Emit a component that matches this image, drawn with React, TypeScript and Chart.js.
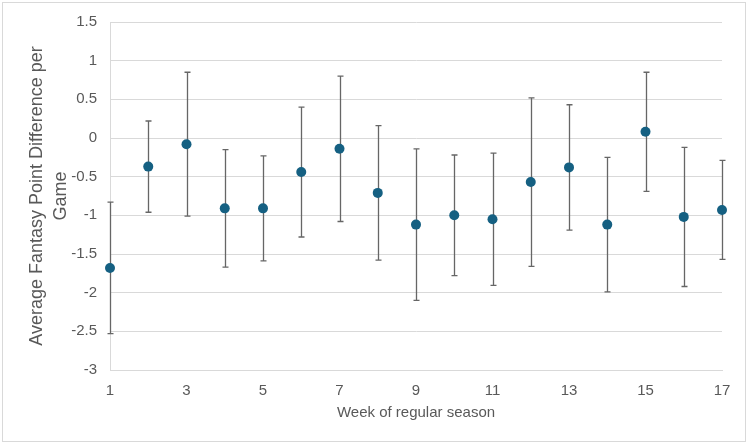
import React, { useEffect, useRef } from "react";
import { Chart, registerables } from "chart.js";

Chart.register(...registerables);

const weeks = [1, 2, 3, 4, 5, 6, 7, 8, 9, 10, 11, 12, 13, 14, 15, 16, 17];
const means = [-1.68, -0.37, -0.08, -0.91, -0.91, -0.44, -0.14, -0.71, -1.12, -1.0, -1.05, -0.57, -0.38, -1.12, 0.08, -1.02, -0.93];
const errors = [0.85, 0.59, 0.93, 0.76, 0.68, 0.84, 0.94, 0.87, 0.98, 0.78, 0.855, 1.09, 0.81, 0.87, 0.77, 0.9, 0.64];
const yTitleLines = ["Average Fantasy Point Difference per", "Game"];
const xTitle = "Week of regular season";

const POINT_COLOR = "#156082";
const BAR_COLOR = "#666666";
const GRID_COLOR = "#d9d9d9";
const TEXT_COLOR = "#595959";
const FONT = "'Liberation Sans', Arial, sans-serif";

const backgroundPlugin = {
  id: "bgBorder",
  beforeDraw(chart: any) {
    const ctx = chart.ctx;
    ctx.save();
    ctx.fillStyle = "#ffffff";
    ctx.fillRect(0, 0, chart.width, chart.height);
    ctx.strokeStyle = GRID_COLOR;
    ctx.lineWidth = 1;
    ctx.strokeRect(2.5, 2.5, 743, 439);
    ctx.restore();
  },
};

const errorBarPlugin = {
  id: "errorBars",
  beforeDatasetsDraw(chart: any) {
    const ctx = chart.ctx;
    const xs = chart.scales.x;
    const ys = chart.scales.y;
    ctx.save();
    ctx.strokeStyle = BAR_COLOR;
    ctx.lineWidth = 1.3;
    const cap = 3;
    weeks.forEach((w, i) => {
      const x = Math.round(xs.getPixelForValue(w)) + 0.5;
      const yHi = ys.getPixelForValue(means[i] + errors[i]);
      const yLo = ys.getPixelForValue(means[i] - errors[i]);
      ctx.beginPath();
      ctx.moveTo(x, yHi);
      ctx.lineTo(x, yLo);
      ctx.moveTo(x - cap, yHi);
      ctx.lineTo(x + cap, yHi);
      ctx.moveTo(x - cap, yLo);
      ctx.lineTo(x + cap, yLo);
      ctx.stroke();
    });
    ctx.restore();
  },
};

export default function App() {
  const ref = useRef<HTMLCanvasElement | null>(null);

  useEffect(() => {
    if (!ref.current) return;
    const chart = new Chart(ref.current, {
      type: "scatter",
      data: {
        datasets: [
          {
            data: weeks.map((w, i) => ({ x: w, y: means[i] })),
            backgroundColor: POINT_COLOR,
            borderColor: POINT_COLOR,
            pointRadius: 5,
            pointHoverRadius: 5,
            borderWidth: 0,
            clip: false as any,
          },
        ],
      },
      options: {
        responsive: false,
        animation: false,
        layout: { padding: { top: 19, right: 28, bottom: 0, left: 0 } },
        plugins: {
          legend: { display: false },
          tooltip: { enabled: false },
        },
        scales: {
          x: {
            type: "linear",
            min: 1,
            max: 17,
            grid: { display: false },
            border: { display: true, color: GRID_COLOR },
            ticks: {
              stepSize: 2,
              color: TEXT_COLOR,
              padding: 4,
              font: { family: FONT, size: 15 },
              callback: (v: any) => String(Number(v)),
            },
            title: {
              display: true,
              text: xTitle,
              color: TEXT_COLOR,
              font: { family: FONT, size: 15, lineHeight: 1.2 },
              padding: { top: 0, bottom: 22 },
            },
            afterFit(scale: any) {
              scale.height = 74;
            },
          },
          y: {
            type: "linear",
            min: -3,
            max: 1.5,
            grid: { color: GRID_COLOR, drawTicks: false },
            border: { display: true, color: GRID_COLOR },
            ticks: {
              stepSize: 0.5,
              color: TEXT_COLOR,
              padding: 13,
              font: { family: FONT, size: 15 },
              callback: (v: any) => String(Number(v)),
            },
            title: {
              display: true,
              text: yTitleLines,
              color: TEXT_COLOR,
              font: { family: FONT, size: 18, lineHeight: 24 / 18 },
              padding: { top: 25, bottom: 0 },
            },
            afterFit(scale: any) {
              scale.width = 110;
            },
          },
        },
      },
      plugins: [backgroundPlugin, errorBarPlugin],
    });
    return () => chart.destroy();
  }, []);

  return (
    <div style={{ position: "absolute", left: 0, top: 0, width: 750, height: 444 }}>
      <canvas ref={ref} width={750} height={444} />
    </div>
  );
}
